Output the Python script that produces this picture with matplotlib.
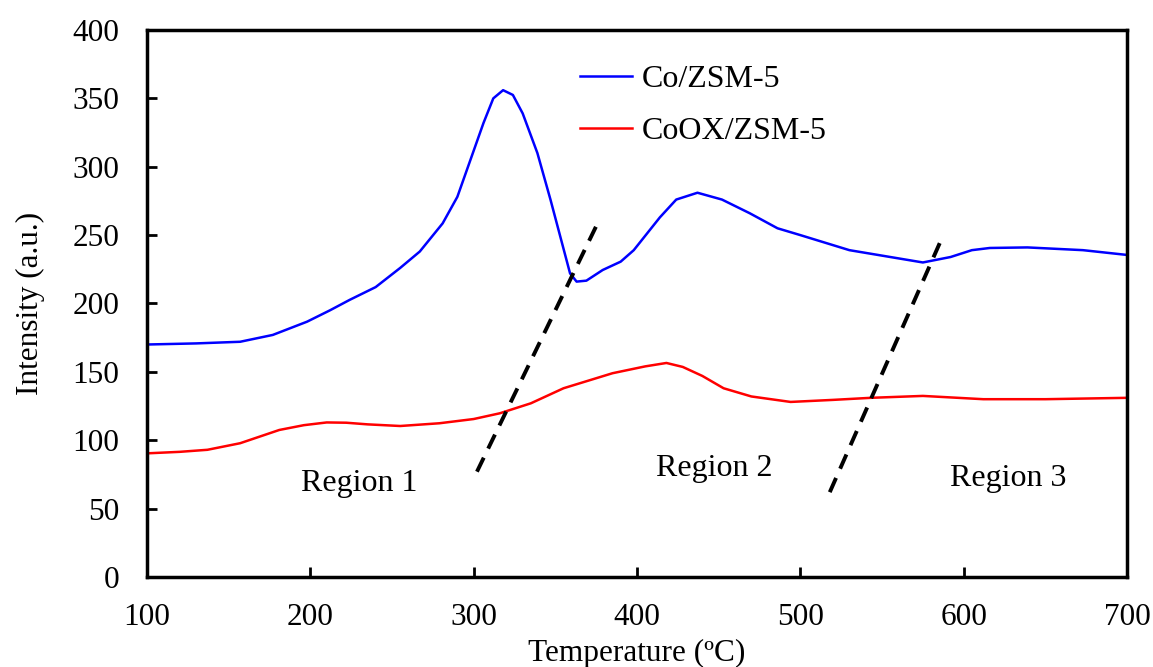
import matplotlib.pyplot as plt
import numpy             as np

plt.rcParams['font.family'] = ['Liberation Serif', 'DejaVu Serif']

# Co/ZSM-5
tempCo  = [100, 130, 157, 177, 198, 212, 224, 240, 255, 267, 281, 290, 298, 306, 312, 318, 324, 330,
           339, 347, 353, 359, 363, 369, 379, 390, 398, 406, 414, 424, 437, 452, 469,
           486, 500, 530, 555, 575, 592, 605, 616, 639, 673, 700]
intCo   = [170, 170.8, 172, 177, 186.7, 195, 202.6, 212, 226, 238, 258.6, 278, 305, 332, 350, 356, 352.5, 339,
           310, 276, 249, 222, 216, 216.7, 224.5, 230.6, 239, 251, 263, 276, 281, 276, 266,
           255, 250, 239, 234, 230, 234, 239, 240.6, 241, 239, 235.5]

# CoOX/ZSM-5
tempCoOX = [100, 120, 137, 157, 181, 196, 210, 222, 235, 255, 279, 300, 316, 335, 355, 385, 405, 418, 428, 440,
            453, 470, 494, 520, 543, 575, 612, 650, 700]
intCoOX  = [90.4, 91.5, 93, 97.8, 107.5, 111, 113, 112.8, 111.6, 110.4, 112.4, 115.5, 119.7, 127, 138, 149, 154, 156.5, 153.6, 147,
            138, 132, 128, 129.5, 131, 132.4, 130, 130, 131]

# region boundaries (dashed)
bound1X = [302, 376]; bound1Y = [77, 259]
bound2X = [518, 586]; bound2Y = [62, 246]

regionLabels = ["Region 1", "Region 2", "Region 3"]
regionX      = [230, 447, 627]
regionY      = [68, 79, 72]

fig, ax = plt.subplots(figsize=(11.53, 6.67), dpi=100)
fig.subplots_adjust(left=0.1275, right=0.9775, bottom=0.135, top=0.955)

ax.plot(tempCo,   intCo,   color='#0000ff', linewidth=1.8, label='Co/ZSM-5', solid_joinstyle='round')
ax.plot(tempCoOX, intCoOX, color='#ff0000', linewidth=1.8, label='CoOX/ZSM-5', solid_joinstyle='round')
ax.plot(bound1X, bound1Y, color='black', linestyle=(0, (4, 2.6)), linewidth=2.8)
ax.plot(bound2X, bound2Y, color='black', linestyle=(0, (4, 2.6)), linewidth=2.8)

for lab, xx, yy in zip(regionLabels, regionX, regionY):
    ax.text(xx, yy, lab, fontsize=23, ha='center', va='center')

ax.set_xlim(100, 700)
ax.set_ylim(0, 400)
ax.set_xticks(np.arange(100, 701, 100))
ax.set_yticks(np.arange(0, 401, 50))
ax.tick_params(direction='in', length=7, width=2, labelsize=22.5)
ax.tick_params(axis='y', pad=20)
ax.tick_params(axis='x', pad=19)
for sp in ax.spines.values():
    sp.set_linewidth(2.5)

ax.set_xlabel('Temperature (ºC)', fontsize=22.5, labelpad=5)
ax.set_ylabel('Intensity (a.u.)', fontsize=22.5, labelpad=20)

ax.legend(loc='upper left', bbox_to_anchor=(0.422, 0.972), frameon=False, fontsize=23,
          handlelength=1.65, handletextpad=0.3, labelspacing=0.71, borderaxespad=0.2)

fig.savefig('out.png', dpi=100)
